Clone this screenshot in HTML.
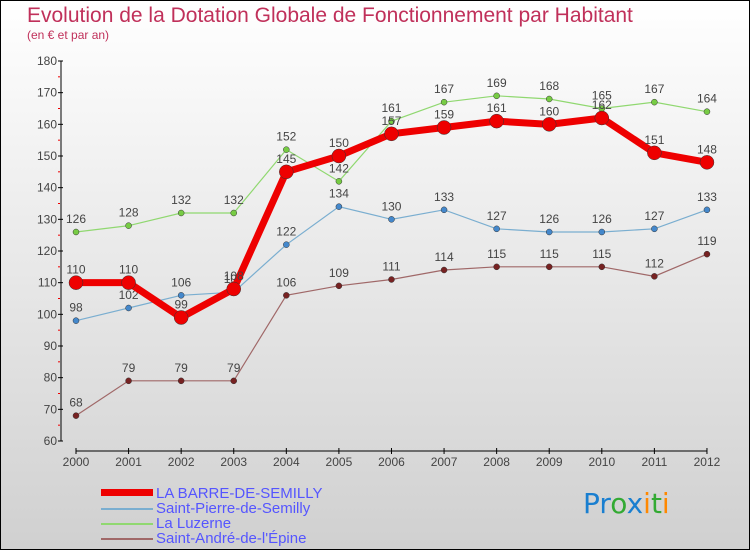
<!DOCTYPE html>
<html><head><meta charset="utf-8"><style>
body{margin:0}
#c{width:750px;height:550px;position:relative;box-sizing:border-box;border:1px solid #000;background:linear-gradient(#fff,#d0d0d0);font-family:"Liberation Sans",sans-serif;overflow:hidden}
.t{position:absolute;left:26px;top:3px;font-size:21px;color:#c0305a}
.s{position:absolute;left:26px;top:27px;font-size:12px;color:#c0305a}
.lg{position:absolute;left:155px;font-size:15px;color:#55f;line-height:15px}
.sw{position:absolute;left:100px;width:52px}
</style></head><body>
<div id="c">
<div class="t">Evolution de la Dotation Globale de Fonctionnement par Habitant</div>
<div class="s">(en € et par an)</div>
<svg id="svg" width="750" height="550" style="position:absolute;left:0;top:0"></svg>
<div class="sw" style="top:488px;height:7px;background:#e00"></div>
<div class="sw" style="top:507px;height:2px;background:#7aaed0"></div>
<div class="sw" style="top:522px;height:2px;background:#90d870"></div>
<div class="sw" style="top:537px;height:2px;background:#a06868"></div>
<div class="lg" style="top:485px">LA BARRE-DE-SEMILLY</div>
<div class="lg" style="top:500px">Saint-Pierre-de-Semilly</div>
<div class="lg" style="top:515px">La Luzerne</div>
<div class="lg" style="top:530px">Saint-André-de-l'Épine</div>
<div style="position:absolute;left:582px;top:486px;font-size:28px;font-family:'DejaVu Sans',sans-serif"><span style="color:#1a7fd0">Pr</span><span style="color:#3a3">o</span><span style="color:#1a7fd0">x</span><span style="color:#f80">i</span><span style="color:#3a3">t</span><span style="color:#f80">i</span></div>
</div>
<script>
const years=["2000","2001","2002","2003","2004","2005","2006","2007","2008","2009","2010","2011","2012"];
const yTicks=[60,70,80,90,100,110,120,130,140,150,160,170,180];
const barre=[110,110,99,108,145,150,157,159,161,160,162,151,148];
const stPierre=[98,102,106,107,122,134,130,133,127,126,126,127,133];
const luzerne=[126,128,132,132,152,142,161,167,169,168,165,167,164];
const stAndre=[68,79,79,79,106,109,111,114,115,115,115,112,119];
const NS="http://www.w3.org/2000/svg",svg=document.getElementById('svg');
const X=i=>75+i*52.58, Y=v=>440-(v-60)*3.1667;
function el(t,a,n){const e=document.createElementNS(NS,t);for(const k in a)e.setAttribute(k,a[k]);


svg.appendChild(e);return e;}
el('line',{x1:60,y1:Y(180),x2:60,y2:Y(60),stroke:'#000'},'y-axis');
el('line',{x1:75,y1:450,x2:706,y2:450,stroke:'#000'},'x-axis');
yTicks.forEach(v=>{el('line',{x1:57,x2:62,y1:Y(v),y2:Y(v),stroke:'#000'},'y-tick');
if(v<180)el('line',{x1:57,x2:59,y1:Y(v+5),y2:Y(v+5),stroke:'#e00'},'y-minor-tick');
const t=el('text',{x:56,y:Y(v)+4,'text-anchor':'end','font-size':12,fill:'#444'},'y-tick-label');t.textContent=v;});
years.forEach((y,i)=>{el('line',{x1:X(i),x2:X(i),y1:447,y2:453,stroke:'#000'},'x-tick');
const t=el('text',{x:X(i),y:465,'text-anchor':'middle','font-size':12,fill:'#444'},'x-tick-label');t.textContent=y;});
function series(d,col,w,r,dot,name){
el('polyline',{points:d.map((v,i)=>X(i)+','+Y(v)).join(' '),fill:'none',stroke:col,'stroke-width':w},name+'-line');
d.forEach((v,i)=>{el('circle',{cx:X(i),cy:Y(v),r:r,fill:dot,stroke:'#333','stroke-width':0.5},name+'-point');
const t=el('text',{x:X(i),y:Y(v)-9,'text-anchor':'middle','font-size':12,fill:'#444'},name+'-value');t.textContent=v;});}
series(luzerne,'#90d870',1.2,3,'#7c4','luzerne');
series(stPierre,'#7aaed0',1.2,3,'#48c','saint-pierre');
series(stAndre,'#a06868',1.2,3,'#722','saint-andre');
series(barre,'#e00',7,7,'#e00','barre');
</script>
</body></html>
